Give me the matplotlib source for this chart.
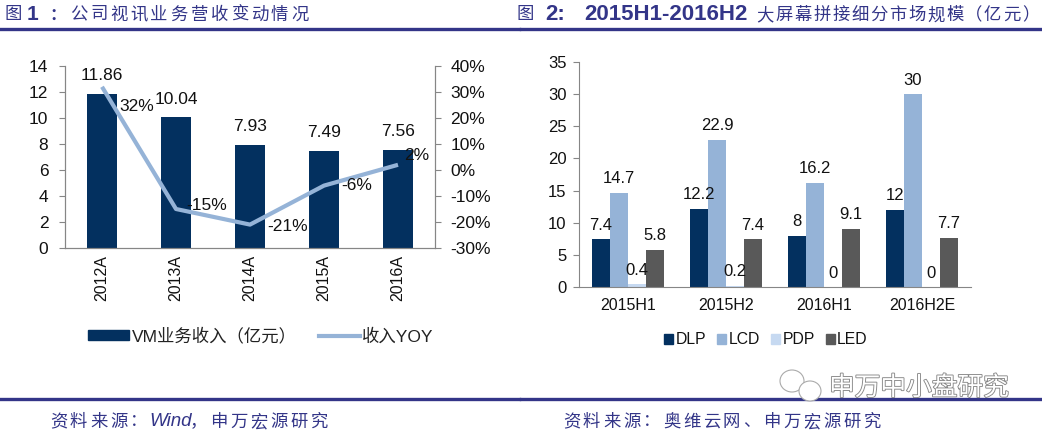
import matplotlib
matplotlib.use('Agg')
import matplotlib.pyplot as plt
import matplotlib.patheffects as pe
from matplotlib.patches import Patch, Ellipse
from matplotlib.lines import Line2D
from matplotlib.ticker import FuncFormatter

plt.rcParams['font.family'] = ['Liberation Sans', 'Noto Sans CJK SC', 'DejaVu Sans']

years = ['2012A', '2013A', '2014A', '2015A', '2016A']
revenue = [11.86, 10.04, 7.93, 7.49, 7.56]
yoy = [32, -15, -21, -6, 2]
yoy_labels = ['32%', '-15%', '-21%', '-6%', '2%']

periods = ['2015H1', '2015H2', '2016H1', '2016H2E']
series_names = ['DLP', 'LCD', 'PDP', 'LED']
dlp = [7.4, 12.2, 8, 12]
lcd = [14.7, 22.9, 16.2, 30]
pdp = [0.4, 0.2, 0, 0]
led = [5.8, 7.4, 9.1, 7.7]
series_colors = ['#03305f', '#95b3d7', '#c6d9f1', '#595959']
legend_left = ['VM业务收入（亿元）', '收入YOY']

W, H = 1042, 434
NAVY = '#333588'
fig = plt.figure(figsize=(W / 100, H / 100), dpi=100)


def axpx(x0, ytop, x1, ybot):
    return fig.add_axes([x0 / W, 1 - ybot / H, (x1 - x0) / W, (ybot - ytop) / H])


def ftext(x, y, s, **kw):
    return fig.text(x / W, 1 - y / H, s, **kw)


def spaced(x, y, s, pitch, size=12.5):
    for i, ch in enumerate(s):
        ftext(x + i * pitch, y, ch, fontsize=size, color=NAVY, va='center')


for x0, x1, y in [(1, 519, 29), (521, 1042, 29), (1, 519, 399), (521, 1042, 399)]:
    fig.add_artist(Line2D([x0 / W, x1 / W], [1 - y / H] * 2, color=NAVY, lw=2.4))

# titles
spaced(4, 15, '图', 20)
ftext(27, 15, '1', fontsize=15, color=NAVY, va='center', fontweight='bold')
ftext(49, 15, '：', fontsize=12, color=NAVY, va='center', fontweight='bold')
spaced(70, 15, '公司视讯业务营收变动情况', 20.1)
spaced(516, 15, '图', 20)
ftext(545, 15, '2:', fontsize=16, color=NAVY, va='center', fontweight='bold')
ftext(584, 15, '2015H1-2016H2', fontsize=16, color=NAVY, va='center', fontweight='bold')
spaced(756, 15, '大屏幕拼接细分市场规模（亿元）', 19)

# sources
spaced(50, 422, '资料来源：', 20)
ftext(149, 422, 'Wind', fontsize=13.5, color=NAVY, va='center', style='italic')
spaced(190, 422, '，申万宏源研究', 20)
spaced(563, 422, '资料来源：奥维云网、申万宏源研究', 20)

# watermark
ftext(829, 388, '申万中小盘研究', fontsize=18.5, color='white', va='center',
      path_effects=[pe.withStroke(linewidth=1.3, foreground='#888888')], zorder=10)
for cx, cy, rx, ry in [(792, 381, 12, 11), (810, 391, 11, 10)]:
    fig.add_artist(Ellipse((cx / W, 1 - cy / H), 2 * rx / W, 2 * ry / H, transform=fig.transFigure,
                           facecolor='white', edgecolor='#aaaaaa', lw=0.8, zorder=9))

# Left chart
ax = axpx(65, 66, 435, 248)
xs = list(range(len(years)))
ax.bar(xs, revenue, width=0.405, color='#03305f', zorder=2)
ax.set_xlim(-0.5, 4.5)
ax.set_ylim(0, 14)
ax.set_yticks(range(0, 15, 2))
ax.set_xticks(xs)
ax.set_xticklabels(years, rotation=90, fontsize=11.5, color='#111111')
ax.tick_params(axis='y', labelsize=12.5, length=4, color='#868686', width=0.8, pad=8, labelcolor='#111111')
ax.tick_params(axis='x', length=0, pad=5)
ax2 = ax.twinx()
ax2.plot(xs, yoy, color='#95b3d7', lw=3.0, solid_capstyle='butt', zorder=3)
ax2.set_ylim(-30, 40)
ax2.set_yticks(range(-30, 41, 10))
ax2.yaxis.set_major_formatter(FuncFormatter(lambda v, p: f'{int(v)}%'))
ax2.tick_params(axis='y', labelsize=12.5, length=4, color='#868686', width=0.8, pad=7, labelcolor='#111111')
for a in (ax, ax2):
    a.spines['top'].set_visible(False)
    for s in ('left', 'right', 'bottom'):
        a.spines[s].set_color('#868686')
        a.spines[s].set_linewidth(0.8)
ax.patch.set_visible(False)

for x, v in zip(xs, revenue):
    ax2.annotate(f'{v:.2f}', (x, -30 + v * 5), xytext=(0, 18), textcoords='offset pixels',
                 ha='center', va='center', fontsize=12.5, color='#111111', zorder=5)
yoy_off = [(35, -20), (31, 4), (38, -2), (33, 0), (19, 9)]
for x, v, lab, o in zip(xs, yoy, yoy_labels, yoy_off):
    ax2.annotate(lab, (x, v), xytext=o, textcoords='offset pixels', ha='center', va='center',
                 fontsize=12.5, color='#111111', zorder=6)

fig.legend(handles=[Patch(color='#03305f'), Line2D([], [], color='#95b3d7', lw=3.0)],
           labels=legend_left, ncol=2, frameon=False, fontsize=12.5,
           loc='center', bbox_to_anchor=(261 / W, 1 - 336 / H), handlelength=2.35, handleheight=0.5,
           columnspacing=1.3, handletextpad=0.15, labelcolor='#222222')

# Right chart
bx = axpx(579, 62, 971, 287)
width = 18 / 98
values = [dlp, lcd, pdp, led]
for i, (vals, name, color) in enumerate(zip(values, series_names, series_colors)):
    pos = [k + (i - 1.5) * width for k in range(len(periods))]
    bx.bar(pos, vals, width=width, color=color, label=name, zorder=2)
    for p, v in zip(pos, vals):
        bx.text(p, v + 1.0, f'{v:g}', ha='center', va='bottom', fontsize=12, color='#111111', zorder=5)
bx.set_xlim(-0.5, 3.5)
bx.set_ylim(0, 35)
bx.set_yticks(range(0, 36, 5))
bx.set_xticks(range(len(periods)))
bx.set_xticklabels(periods, fontsize=11.5, color='#111111')
bx.tick_params(axis='y', labelsize=12, length=4, color='#868686', width=0.8, pad=5, labelcolor='#111111')
bx.tick_params(axis='x', length=0, pad=8)
for s in ('top', 'right'):
    bx.spines[s].set_visible(False)
for s in ('left', 'bottom'):
    bx.spines[s].set_color('#868686')
    bx.spines[s].set_linewidth(0.8)
fig.legend(handles=[Patch(color=c) for c in series_colors], labels=series_names, ncol=4, frameon=False,
           fontsize=11.3, loc='center', bbox_to_anchor=(766 / W, 1 - 340 / H), handlelength=0.57, handleheight=0.57,
           columnspacing=0.72, handletextpad=0.14, labelcolor='#111111')

fig.savefig('out.png', dpi=100)
